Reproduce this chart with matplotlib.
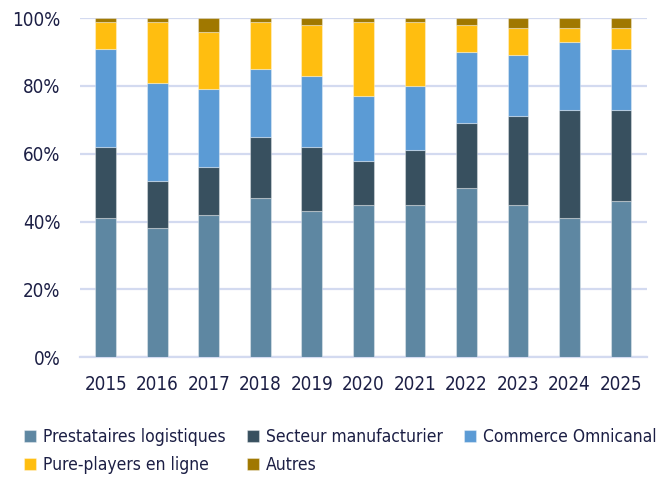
import matplotlib
matplotlib.use('Agg')
import matplotlib.pyplot as plt
import numpy as np

years = ['2015', '2016', '2017', '2018', '2019', '2020', '2021', '2022', '2023', '2024', '2025']
series_names = ['Prestataires logistiques', 'Secteur manufacturier', 'Commerce Omnicanal',
                'Pure-players en ligne', 'Autres']

# part de chaque catégorie (%)
prestataires = [41, 38, 42, 47, 43, 45, 45, 50, 45, 41, 46]
secteur = [21, 14, 14, 18, 19, 13, 16, 19, 26, 32, 27]
commerce = [29, 29, 23, 20, 21, 19, 19, 21, 18, 20, 18]
pure_players = [8, 18, 17, 14, 15, 22, 19, 8, 8, 4, 6]
autres = [1, 1, 4, 1, 2, 1, 1, 2, 3, 3, 3]

colors = ['#5e87a2', '#38505f', '#5b9bd5', '#ffbe10', '#a07800']
text_color = '#1c1f45'
grid_color = '#d3daf0'

plt.rcParams['font.family'] = ['DejaVu Sans']
plt.rcParams['font.stretch'] = 'condensed'

fig = plt.figure(figsize=(6.66, 4.78), dpi=100)
ax = fig.add_axes([0.120, 0.253, 0.851, 0.709])

x = np.arange(len(years))
bottom = np.zeros(len(years))
handles = []
for vals, name, col in zip([prestataires, secteur, commerce, pure_players, autres], series_names, colors):
    v = np.array(vals) / 100.0
    b = ax.bar(x, v, 0.4, bottom=bottom, color=col, edgecolor=(1, 1, 1, 0.35),
               linewidth=0.8, label=name, zorder=3)
    handles.append(b)
    bottom += v

ax.set_xlim(-0.5, len(years) - 0.5)
ax.set_ylim(0, 1)
ax.set_yticks(np.arange(0, 1.01, 0.2))
ax.set_yticklabels([f'{int(round(t * 100))}%' for t in np.arange(0, 1.01, 0.2)])
ax.set_xticks(x)
ax.set_xticklabels(years)
ax.tick_params(axis='both', length=0, labelsize=13.5, colors=text_color)
ax.tick_params(axis='y', pad=14)
ax.tick_params(axis='x', pad=13)

ax.grid(axis='y', color=grid_color, linewidth=1.6, zorder=0)
ax.set_axisbelow(True)
for s in ['top', 'right', 'left']:
    ax.spines[s].set_visible(False)
ax.spines['bottom'].set_color(grid_color)
ax.spines['bottom'].set_linewidth(1.6)

order = [0, 3, 1, 4, 2]
leg = fig.legend([handles[i] for i in order], [series_names[i] for i in order],
                 ncol=3, loc='lower left', bbox_to_anchor=(0.018, -0.017), frameon=False,
                 fontsize=12.5, handlelength=0.7, handleheight=0.7, handletextpad=0.4,
                 columnspacing=1.2, labelspacing=0.55, borderaxespad=0.3)
for t in leg.get_texts():
    t.set_color(text_color)

fig.savefig('out.png', dpi=100)
